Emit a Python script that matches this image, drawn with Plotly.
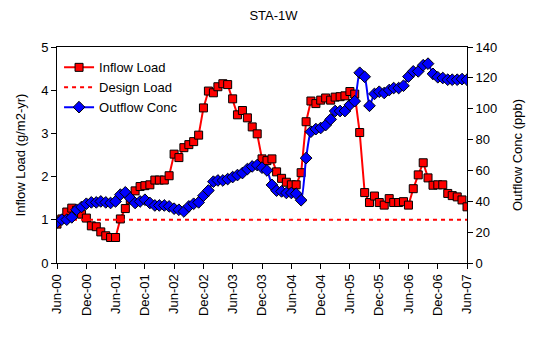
import plotly.graph_objects as go
import pandas as pd

start = "2000-06-01"
n_months = 85

inflow_load = [0.90, 1.02, 1.18, 1.27, 1.22, 1.13, 1.04, 0.86, 0.84, 0.72,
               0.63, 0.59, 0.59, 1.02, 1.26, 1.46, 1.67, 1.77, 1.79, 1.81,
               1.92, 1.92, 1.92, 2.02, 2.52, 2.44, 2.67, 2.74, 2.81, 2.96,
               3.59, 3.98, 3.94, 4.08, 4.15, 4.13, 3.80, 3.43, 3.53, 3.36,
               3.15, 2.99, 2.41, 2.37, 2.41, 2.11, 1.96, 1.87, 1.81, 1.81,
               2.09, 3.27, 3.75, 3.69, 3.77, 3.82, 3.77, 3.84, 3.85, 3.87,
               3.97, 3.91, 3.02, 1.63, 1.40, 1.55, 1.40, 1.34, 1.49, 1.40,
               1.40, 1.42, 1.34, 1.72, 2.04, 2.32, 1.97, 1.80, 1.81, 1.81,
               1.61, 1.56, 1.53, 1.46, 1.30]

outflow_conc = [26.3, 28.1, 28.1, 29.6, 34.5, 36.3, 38.4, 39.3, 39.3, 39.9,
                39.3, 38.9, 39.9, 44.3, 45.8, 42.0, 38.9, 39.9, 41.0, 38.9,
                37.3, 37.3, 37.3, 36.7, 35.2, 34.5, 33.4, 36.7, 38.4, 39.3,
                43.6, 47.0, 52.7, 53.5, 53.5, 54.4, 55.7, 57.0, 58.3, 60.9,
                62.6, 63.5, 61.8, 60.0, 50.6, 46.9, 46.4, 45.4, 45.4, 44.9,
                40.7, 68.0, 85.1, 86.8, 87.5, 89.4, 93.1, 98.5, 98.5, 98.5,
                102.5, 104.9, 123.3, 120.7, 101.9, 109.6, 111.0, 110.2, 112.1, 113.4,
                113.4, 114.9, 120.8, 124.2, 124.2, 128.2, 129.2, 122.6, 120.4, 119.9,
                118.8, 118.8, 118.8, 119.2, 118.8]

design_load = 1.0

dates = pd.date_range(start=start, periods=n_months, freq="MS")

FONT = "Liberation Sans, Arial, sans-serif"

fig = go.Figure()

fig.add_trace(go.Scatter(
    x=dates, y=inflow_load, name="Inflow Load", mode="lines+markers",
    line=dict(color="#FF0000", width=2),
    marker=dict(symbol="square", size=8, color="#FF0000",
                line=dict(color="#000000", width=1)),
    yaxis="y"))

fig.add_trace(go.Scatter(
    x=[dates[0], dates[-1]], y=[design_load, design_load], name="Design Load",
    mode="lines", line=dict(color="#FF0000", width=2, dash="4px,4px"),
    yaxis="y"))

fig.add_trace(go.Scatter(
    x=dates, y=outflow_conc, name="Outflow Conc", mode="lines+markers",
    line=dict(color="#0000FF", width=2, shape="spline", smoothing=0.6),
    marker=dict(symbol="diamond", size=9, color="#0000FF",
                line=dict(color="#000000", width=1)),
    yaxis="y2"))

fig.update_layout(
    width=547, height=350,
    margin=dict(l=57, r=80, t=47, b=87),
    paper_bgcolor="white", plot_bgcolor="white",
    font=dict(family=FONT, size=13, color="#000000"),
    title=dict(text="STA-1W", x=0.5, xref="container", xanchor="center",
               y=1 - 15 / 350, yanchor="middle",
               font=dict(family=FONT, size=13, color="#000000")),
    showlegend=True,
    legend=dict(x=0.005, y=0.975, xanchor="left", yanchor="top",
                bgcolor="rgba(0,0,0,0)", borderwidth=0,
                font=dict(family=FONT, size=13, color="#000000"),
                tracegroupgap=0),
    xaxis=dict(
        type="date",
        range=[dates[0], dates[-1]],
        tick0=dates[0], dtick="M6", tickformat="%b-%y",
        tickangle=-90, ticks="outside", ticklen=5, tickcolor="#000000",
        showline=True, linecolor="#000000", linewidth=1, mirror=True,
        showgrid=False, zeroline=False,
        tickfont=dict(family=FONT, size=13, color="#000000")),
    yaxis=dict(
        title=dict(text="Inflow Load (g/m2-yr)", standoff=12,
                   font=dict(family=FONT, size=13, color="#000000")),
        range=[0, 5], dtick=1, ticks="outside", ticklen=5, tickcolor="#000000",
        showline=True, linecolor="#000000", linewidth=1,
        showgrid=False, zeroline=False,
        tickfont=dict(family=FONT, size=13, color="#000000")),
    yaxis2=dict(
        title=dict(text="Outflow Conc (ppb)", standoff=16,
                   font=dict(family=FONT, size=13, color="#000000")),
        overlaying="y", side="right",
        range=[0, 140], dtick=20, ticks="outside", ticklen=5, tickcolor="#000000",
        showline=True, linecolor="#000000", linewidth=1,
        showgrid=False, zeroline=False,
        tickfont=dict(family=FONT, size=13, color="#000000")),
)

fig.write_html("out.html")
